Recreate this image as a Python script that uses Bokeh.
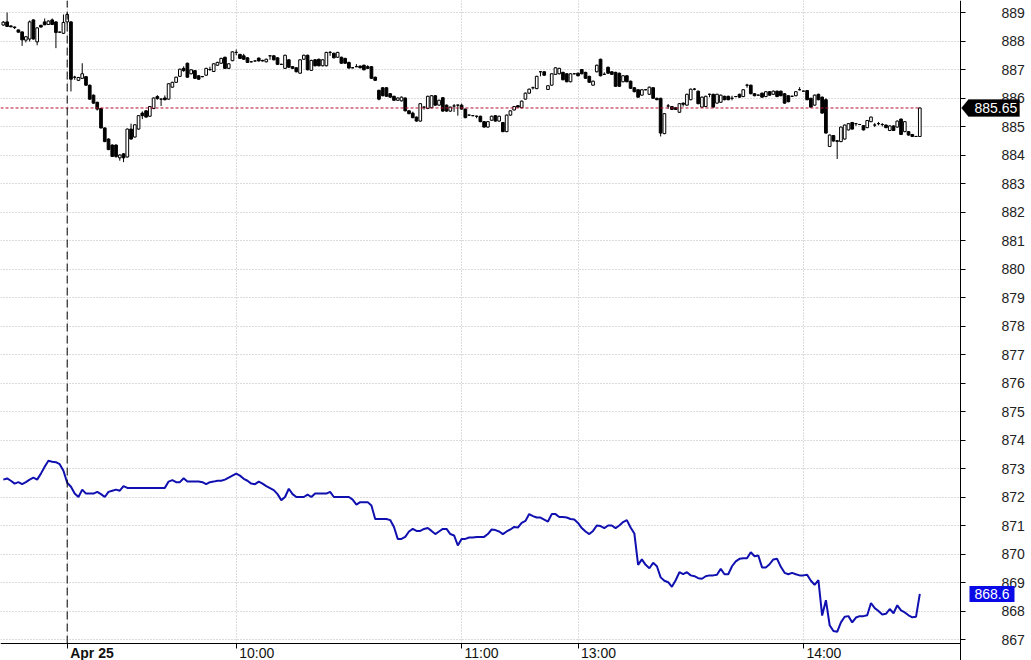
from bokeh.plotting import figure
from bokeh.models import ColumnDataSource, FixedTicker, Label, PolyAnnotation, BoxAnnotation, Range1d
from bokeh.embed import file_html
from bokeh.resources import INLINE

# ---------------- data ----------------
bars = list(range(-17, 228))   # 1-minute bars; 0 = first bar of Apr 25

opens = [
    888.56, 888.67, 888.53, 888.49, 888.39, 888.32, 888.03, 888.07, 888.74, 887.97,
    888.55, 888.67, 888.58, 888.74, 888.67, 888.31, 888.27, 888.67, 888.67, 886.73,
    886.62, 886.69, 886.75, 886.45, 886.10, 885.85, 885.63, 884.95, 884.56, 884.35,
    884.35, 883.90, 884.04, 883.93, 884.91, 884.63, 884.91, 885.47, 885.55, 885.36,
    885.63, 886.05, 885.96, 886.00, 885.96, 886.38, 886.55, 886.76, 887.04, 887.22,
    886.85, 886.96, 886.78, 886.75, 886.80, 887.00, 886.93, 887.15, 887.22, 887.43,
    887.04, 887.31, 887.60, 887.53, 887.48, 887.41, 887.27, 887.30, 887.40, 887.32,
    887.27, 887.48, 887.48, 887.41, 887.18, 887.04, 887.34, 887.10, 887.06, 886.87,
    887.36, 887.50, 886.97, 887.34, 887.36, 887.13, 887.13, 887.60, 887.57, 887.43,
    887.43, 887.39, 887.25, 887.06, 887.10, 887.12, 887.15, 887.10, 887.10, 886.73,
    886.27, 886.36, 886.36, 886.15, 886.06, 885.92, 885.90, 886.00, 885.55, 885.47,
    885.33, 885.19, 885.68, 885.63, 885.66, 886.08, 885.75, 886.01, 885.75, 885.54,
    885.72, 885.75, 885.75, 885.61, 885.40, 885.38, 885.36, 885.36, 885.17, 884.98,
    885.22, 885.38, 885.19, 885.14, 884.82, 885.40, 885.58, 885.73, 885.66, 885.96,
    886.17, 886.36, 886.33, 886.92, 886.92, 886.30, 886.45, 886.83, 886.85, 886.90,
    886.85, 886.57, 886.85, 886.87, 887.00, 886.90, 886.76, 886.45, 886.92, 887.36,
    886.83, 887.08, 886.92, 886.90, 886.87, 886.57, 886.78, 886.59, 886.36, 886.29,
    886.10, 886.29, 886.13, 886.36, 885.99, 885.99, 884.75, 885.72, 885.70, 885.66,
    885.50, 885.82, 885.75, 885.94, 886.31, 886.24, 885.68, 885.70, 886.13, 886.13,
    885.82, 885.85, 886.06, 886.06, 885.99, 886.05, 886.13, 886.05, 886.45, 886.45,
    886.15, 886.10, 886.17, 886.05, 886.22, 886.13, 886.24, 886.24, 886.15, 886.08,
    886.06, 886.08, 886.29, 886.24, 886.26, 885.99, 885.75, 886.13, 886.03, 885.94,
    884.30, 884.68, 884.50, 884.47, 884.56, 884.88, 885.14, 885.10, 885.07, 885.03,
    884.96, 885.17, 885.05, 885.10, 885.07, 885.05, 884.86, 885.02, 884.98, 885.26,
    884.82, 884.82, 884.72, 884.65, 884.65,
]

closes = [
    888.66, 888.51, 888.50, 888.47, 888.31, 888.04, 888.15, 888.67, 888.07, 888.46,
    888.49, 888.57, 888.70, 888.58, 888.30, 888.31, 888.65, 888.93, 886.66, 886.73,
    886.72, 886.85, 886.45, 885.96, 885.82, 885.61, 884.95, 884.47, 884.19, 883.95,
    883.95, 884.00, 883.90, 884.91, 884.56, 885.06, 885.38, 885.38, 885.33, 885.70,
    886.00, 885.98, 885.96, 885.94, 886.50, 886.55, 886.73, 887.01, 886.96, 886.73,
    886.99, 886.69, 886.66, 886.75, 887.04, 887.00, 887.20, 887.25, 887.39, 887.04,
    887.20, 887.62, 887.60, 887.39, 887.36, 887.25, 887.27, 887.30, 887.30, 887.30,
    887.36, 887.48, 887.34, 887.18, 887.18, 887.50, 887.08, 887.04, 886.92, 887.34,
    887.50, 886.99, 887.32, 887.13, 887.13, 887.34, 887.60, 887.60, 887.41, 887.60,
    887.22, 887.22, 887.05, 887.06, 887.10, 887.06, 886.99, 887.04, 886.69, 886.62,
    885.96, 886.08, 886.06, 886.03, 885.92, 886.00, 886.03, 885.55, 885.45, 885.31,
    885.19, 885.80, 885.68, 886.06, 886.08, 885.75, 885.92, 885.54, 885.54, 885.68,
    885.72, 885.75, 885.61, 885.31, 885.40, 885.38, 885.36, 885.17, 884.98, 885.17,
    885.36, 885.19, 885.36, 884.82, 885.40, 885.55, 885.70, 885.68, 885.89, 886.17,
    886.31, 886.36, 886.76, 886.92, 886.80, 886.43, 886.85, 887.06, 887.04, 886.64,
    886.57, 886.85, 886.85, 886.78, 886.85, 886.69, 886.55, 886.59, 887.15, 886.78,
    886.83, 886.87, 886.83, 886.41, 886.41, 886.78, 886.57, 886.34, 886.22, 886.03,
    886.29, 886.29, 886.38, 885.99, 885.94, 884.77, 885.45, 885.72, 885.60, 885.60,
    885.80, 885.78, 886.13, 886.31, 886.31, 885.80, 886.03, 886.06, 886.13, 885.68,
    886.13, 886.10, 885.94, 885.94, 885.99, 886.05, 886.03, 886.29, 886.45, 886.15,
    886.08, 886.10, 886.03, 886.22, 886.10, 886.24, 886.05, 886.08, 885.82, 885.87,
    886.06, 886.22, 886.29, 886.24, 885.94, 885.68, 886.10, 885.94, 885.47, 884.77,
    884.70, 884.49, 884.48, 884.98, 885.05, 885.10, 884.91, 885.10, 885.07, 884.88,
    885.21, 885.33, 885.05, 885.10, 885.07, 884.96, 885.02, 884.86, 885.19, 884.72,
    885.17, 884.70, 884.65, 884.65, 885.65,
]

highs = [
    888.70, 889.00, 888.55, 888.51, 888.40, 888.33, 888.17, 888.72, 888.76, 888.48,
    888.57, 888.79, 888.72, 888.79, 888.69, 888.33, 888.93, 888.98, 888.70, 886.78,
    886.74, 887.22, 886.77, 886.47, 886.12, 885.87, 885.65, 884.97, 884.58, 884.37,
    884.37, 884.02, 884.06, 884.93, 885.10, 885.08, 885.40, 885.53, 885.57, 885.72,
    886.02, 886.10, 885.99, 886.09, 886.52, 886.57, 886.75, 887.03, 887.11, 887.24,
    887.01, 886.98, 886.80, 886.77, 887.06, 887.10, 887.22, 887.27, 887.41, 887.45,
    887.22, 887.64, 887.70, 887.55, 887.55, 887.43, 887.29, 887.32, 887.42, 887.34,
    887.38, 887.50, 887.50, 887.43, 887.20, 887.52, 887.36, 887.12, 887.08, 887.36,
    887.52, 887.52, 887.34, 887.36, 887.38, 887.36, 887.62, 887.65, 887.59, 887.62,
    887.45, 887.41, 887.27, 887.08, 887.19, 887.14, 887.17, 887.15, 887.12, 886.75,
    886.29, 886.38, 886.38, 886.17, 886.08, 886.02, 886.05, 886.02, 885.57, 885.52,
    885.35, 885.82, 885.70, 886.08, 886.10, 886.10, 885.94, 886.03, 885.77, 885.70,
    885.79, 885.77, 885.80, 885.63, 885.42, 885.40, 885.38, 885.38, 885.19, 885.19,
    885.38, 885.40, 885.38, 885.16, 885.42, 885.57, 885.72, 885.75, 885.91, 886.19,
    886.33, 886.40, 886.78, 886.94, 886.94, 886.45, 886.87, 887.08, 887.06, 886.92,
    886.87, 886.87, 886.87, 886.89, 887.02, 886.92, 886.78, 886.61, 887.17, 887.38,
    886.90, 887.10, 886.94, 886.92, 886.89, 886.80, 886.80, 886.61, 886.38, 886.31,
    886.31, 886.31, 886.40, 886.38, 886.01, 886.01, 885.47, 885.79, 885.72, 885.68,
    885.82, 885.84, 886.15, 886.33, 886.35, 886.26, 886.05, 886.08, 886.15, 886.15,
    886.15, 886.12, 886.08, 886.08, 886.08, 886.07, 886.15, 886.31, 886.50, 886.47,
    886.17, 886.12, 886.19, 886.24, 886.24, 886.26, 886.26, 886.26, 886.17, 886.10,
    886.08, 886.24, 886.38, 886.26, 886.28, 886.01, 886.12, 886.15, 886.05, 885.99,
    884.72, 884.70, 884.52, 885.00, 885.07, 885.12, 885.16, 885.12, 885.09, 885.05,
    885.23, 885.35, 885.12, 885.16, 885.12, 885.07, 885.04, 885.04, 885.21, 885.28,
    885.19, 884.84, 884.74, 884.67, 885.67,
]

lows = [
    888.54, 888.50, 888.48, 888.42, 888.30, 887.83, 887.95, 887.98, 888.05, 887.85,
    888.47, 888.55, 888.56, 888.56, 887.75, 888.29, 888.25, 888.60, 886.23, 886.64,
    886.60, 886.67, 886.43, 885.94, 885.80, 885.56, 884.93, 884.45, 884.17, 883.93,
    883.90, 883.80, 883.75, 883.91, 884.54, 884.61, 884.89, 885.26, 885.31, 885.34,
    885.61, 885.94, 885.72, 885.92, 885.94, 886.36, 886.53, 886.74, 886.92, 886.71,
    886.83, 886.67, 886.64, 886.73, 886.78, 886.95, 886.91, 887.13, 887.20, 887.02,
    887.02, 887.29, 887.50, 887.37, 887.34, 887.23, 887.25, 887.28, 887.28, 887.28,
    887.25, 887.34, 887.32, 887.16, 887.16, 887.02, 887.06, 887.02, 886.90, 886.85,
    887.34, 886.97, 886.95, 887.11, 887.11, 887.11, 887.11, 887.48, 887.39, 887.41,
    887.20, 887.20, 887.03, 887.04, 887.08, 887.04, 886.97, 887.02, 886.67, 886.60,
    885.92, 886.06, 886.04, 886.01, 885.90, 885.90, 885.88, 885.53, 885.43, 885.29,
    885.17, 885.17, 885.59, 885.61, 885.64, 885.73, 885.73, 885.52, 885.52, 885.52,
    885.51, 885.38, 885.59, 885.29, 885.38, 885.36, 885.29, 885.15, 884.96, 884.96,
    885.20, 885.17, 885.17, 884.80, 884.80, 885.38, 885.56, 885.66, 885.64, 885.94,
    886.15, 886.30, 886.31, 886.76, 886.78, 886.28, 886.43, 886.81, 886.83, 886.62,
    886.55, 886.55, 886.83, 886.76, 886.83, 886.67, 886.53, 886.43, 886.90, 886.76,
    886.81, 886.85, 886.81, 886.39, 886.39, 886.55, 886.55, 886.32, 886.20, 886.01,
    886.08, 886.27, 886.11, 885.97, 885.92, 884.65, 884.73, 885.62, 885.58, 885.58,
    885.48, 885.70, 885.73, 885.92, 886.27, 885.78, 885.66, 885.68, 886.03, 885.66,
    885.80, 885.83, 885.92, 885.92, 885.92, 886.03, 886.01, 886.03, 886.36, 886.13,
    886.06, 886.08, 886.01, 886.03, 886.08, 886.11, 886.03, 886.06, 885.80, 885.85,
    886.04, 886.06, 886.27, 886.22, 885.92, 885.66, 885.73, 885.92, 885.45, 884.75,
    884.28, 884.47, 883.86, 884.45, 884.54, 884.86, 884.89, 885.02, 885.05, 884.86,
    884.94, 885.15, 884.98, 885.04, 885.00, 884.94, 884.84, 884.84, 884.96, 884.70,
    884.80, 884.68, 884.63, 884.63, 884.63,
]

line_vals = [
    872.61, 872.65, 872.57, 872.47, 872.52, 872.45, 872.52, 872.61, 872.68, 872.61,
    872.82, 873.06, 873.27, 873.24, 873.22, 873.15, 872.92,
    872.50, 872.36, 872.12, 872.00, 872.26, 872.12, 872.12, 872.12, 872.18, 872.10,
    872.00, 872.18, 872.22, 872.26, 872.22, 872.38, 872.32,
    872.32, 872.32, 872.32, 872.32, 872.32, 872.32, 872.32, 872.32, 872.32, 872.32,
    872.54, 872.59, 872.52, 872.52, 872.66, 872.54, 872.54, 872.54, 872.54,
    872.52, 872.45, 872.52, 872.54, 872.57, 872.57, 872.61, 872.68, 872.75, 872.82,
    872.75, 872.64, 872.57, 872.47, 872.45, 872.54, 872.47, 872.38, 872.31, 872.24, 872.10,
    871.89, 872.00, 872.29, 872.10, 872.00, 872.00, 872.00, 872.08, 872.00, 872.12,
    872.12, 872.12, 872.12,
    872.18, 872.00, 872.00, 872.00, 872.00, 872.00, 871.91, 871.73, 871.82, 871.82,
    871.82, 871.70,
    871.23, 871.23, 871.23, 871.23, 871.19, 870.95, 870.53, 870.53, 870.60, 870.79, 870.88,
    870.81, 870.81, 870.88, 870.91, 870.81, 870.70, 870.79, 870.88, 870.88, 870.70,
    870.65, 870.30,
    870.53, 870.53, 870.58, 870.58, 870.60, 870.60, 870.60, 870.70, 870.86, 870.84,
    870.79, 870.70,
    870.79, 870.86, 870.95, 870.93, 871.09, 871.16, 871.40, 871.33, 871.28, 871.28,
    871.21, 871.14,
    871.40, 871.40, 871.30, 871.30, 871.28, 871.23, 871.21, 871.09, 870.91, 870.79,
    870.70, 870.81,
    871.00, 870.98, 870.91, 871.00, 871.00, 870.91, 871.00, 871.12, 871.19, 870.93, 870.72,
    869.62, 869.81, 869.62, 869.50, 869.69, 869.57, 869.18, 869.06, 869.01,
    868.85, 869.08, 869.36, 869.29, 869.36, 869.25, 869.22, 869.15, 869.13, 869.22,
    869.25, 869.25, 869.27,
    869.48, 869.29, 869.29, 869.57, 869.74, 869.83, 869.85, 869.85, 870.06, 869.92, 869.95,
    869.53, 869.53, 869.64, 869.81, 869.83, 869.55, 869.34, 869.29, 869.34, 869.29,
    869.25, 869.25, 869.27,
    869.06, 868.92, 869.08,
    867.84, 868.38, 867.50, 867.30, 867.27, 867.60, 867.80, 867.82, 867.60, 867.77,
    867.82, 867.82, 867.85,
    868.28, 868.10, 868.00, 867.88, 867.90, 868.07, 867.92, 868.20, 868.02, 867.95,
    867.85, 867.78, 867.80, 868.60,
]

tick_bars = [0, 45, 105, 136, 196]
tick_labels = ["Apr 25", "10:00", "11:00", "13:00", "14:00"]
y_ticks = list(range(867, 890))
last_price = 885.65
last_line = 868.6

# ---------------- layout (pixel <-> data helpers) ----------------
W, H = 1031, 660
X0_PX, PX_PER_BAR = 66.7, 3.756      # pixel of bar 0, pixels per bar
Y_TOP, PX_PER_PT = 889 + 12 / 28.5, 28.5


def bx(px):
    return (px - X0_PX) / PX_PER_BAR


def py(px):
    return Y_TOP - px / PX_PER_PT


x_start, x_end = bx(0), bx(W)
y_start, y_end = py(H), py(0)
axis_x = bx(960)      # right price axis
axis_y = py(643)      # bottom time axis

p = figure(width=W, height=H, output_backend="svg", toolbar_location=None,
           x_range=Range1d(x_start, x_end), y_range=Range1d(y_start, y_end),
           y_axis_location="right", min_border_left=0, min_border_right=0,
           min_border_top=0, min_border_bottom=0)
p.outline_line_color = None
p.background_fill_color = "white"
p.border_fill_color = "white"

# grids
p.ygrid.ticker = FixedTicker(ticks=y_ticks)
p.xgrid.ticker = FixedTicker(ticks=tick_bars)
for g in (p.xgrid, p.ygrid):
    g.grid_line_color = "#b8b8b8"
    g.grid_line_dash = "1 2"
    g.grid_line_width = 1
grid_props = type(p.ygrid[0]).properties()
if "cross_bounds" in grid_props:
    p.ygrid.cross_bounds = (x_start, axis_x)
    p.xgrid.cross_bounds = (axis_y, y_end)

# y axis (right), drawn at the price-axis position
ya = p.yaxis[0]
ya.fixed_location = axis_x
ya.ticker = FixedTicker(ticks=y_ticks)
ya.axis_line_color = "black"
ya.major_tick_line_color = "black"
ya.major_tick_out = 5
ya.major_tick_in = 0
ya.minor_tick_line_color = None
ya.major_label_standoff = 36
ya.major_label_text_font = "Liberation Sans"
ya.major_label_text_font_size = "14px"
ya.major_label_text_color = "#222222"

# x axis (bottom), labels drawn separately left-aligned
xa = p.xaxis[0]
xa.fixed_location = axis_y
xa.bounds = (x_start, axis_x)
xa.ticker = FixedTicker(ticks=tick_bars)
xa.major_label_overrides = {b: "" for b in tick_bars}
xa.major_label_text_font_size = "1px"
xa.major_label_standoff = 0
xa.axis_line_color = "black"
xa.major_tick_line_color = "black"
xa.major_tick_out = 5
xa.major_tick_in = 0
xa.minor_tick_line_color = None

# ---------------- candles ----------------
up = [i for i in range(len(bars)) if closes[i] > opens[i]]
dn = [i for i in range(len(bars)) if closes[i] <= opens[i]]


def make_src(idx):
    return ColumnDataSource(dict(
        x=[bars[i] for i in idx],
        top=[max(opens[i], closes[i]) for i in idx],
        bot=[min(opens[i], closes[i]) for i in idx],
    ))


wick_src = ColumnDataSource(dict(x=bars, h=highs, l=lows))
p.segment(x0="x", y0="l", x1="x", y1="h", source=wick_src, line_color="black", line_width=1)
p.vbar(x="x", width=0.72, top="top", bottom="bot", source=make_src(dn),
       fill_color="black", line_color="black", line_width=1)
p.vbar(x="x", width=0.72, top="top", bottom="bot", source=make_src(up),
       fill_color="white", line_color="black", line_width=1)

# ---------------- line series ----------------
p.line(bars, line_vals, line_color="#1010b0", line_width=2)

# ---------------- reference lines ----------------
p.segment(x0=[x_start], y0=[last_price], x1=[bars[-1]], y1=[last_price],
          line_color="#b8102e", line_dash="3 2", line_width=1)
p.segment(x0=[tick_bars[0]], y0=[axis_y], x1=[tick_bars[0]], y1=[y_end],
          line_color="black", line_dash="8 4", line_width=1)

# ---------------- x labels ----------------
for b, lab in zip(tick_bars, tick_labels):
    p.add_layout(Label(x=b, y=py(644), text=lab, text_align="left", text_baseline="top",
                       x_offset=3, text_font="Liberation Sans", text_font_size="14px",
                       text_color="#111111",
                       text_font_style="bold" if lab == "Apr 25" else "normal"))

# ---------------- price tags ----------------
h1 = 8.5 / PX_PER_PT
p.add_layout(PolyAnnotation(
    xs=[bx(961), bx(968), bx(1019), bx(1019), bx(968)],
    ys=[last_price, last_price + h1, last_price + h1, last_price - h1, last_price - h1],
    fill_color="black", fill_alpha=1.0, line_color="black", line_width=1))
p.add_layout(Label(x=bx(974), y=last_price, text=f"{last_price:.2f}", text_align="left",
                   text_baseline="middle", text_color="white", text_font="Liberation Sans",
                   text_font_size="14px"))

h2 = 8 / PX_PER_PT
p.add_layout(BoxAnnotation(left=bx(969), right=bx(1014),
                           bottom=last_line - h2, top=last_line + h2,
                           fill_color="#0a0ae6", fill_alpha=1.0, line_color=None))
p.add_layout(Label(x=bx(974), y=last_line, text=f"{last_line}", text_align="left",
                   text_baseline="middle", text_color="white", text_font="Liberation Sans",
                   text_font_size="14px"))

open("out.html", "w").write(file_html(p, INLINE))
